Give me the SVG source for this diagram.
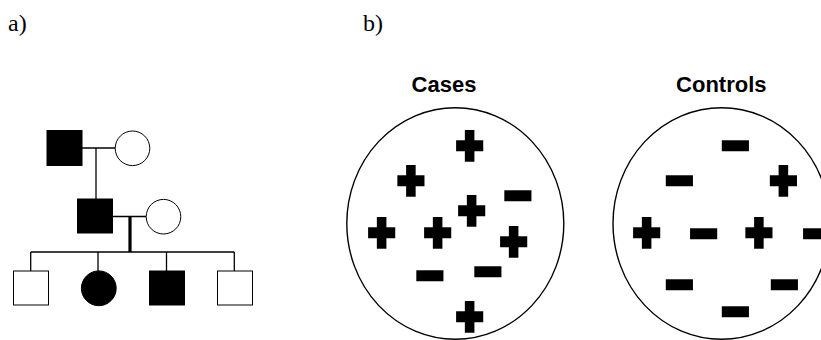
<svg xmlns="http://www.w3.org/2000/svg" width="821" height="340" viewBox="0 0 821 340">
  <style>
    .panel { font-family: "Liberation Serif", "Times New Roman", serif; font-size: 24px; fill: #000; }
    .title { font-family: "Liberation Sans", Arial, sans-serif; font-weight: bold; font-size: 22px; fill: #000; text-anchor: middle; }
    .pm { font-family: "Liberation Sans", Arial, sans-serif; font-weight: bold; font-size: 45px; fill: #000; stroke: #000; stroke-width: 4.6; stroke-linejoin: miter; text-anchor: middle; }
    .line { stroke: #000; stroke-width: 1.3; fill: none; }
    .aff { fill: #000; stroke: #000; stroke-width: 1; }
    .unaff { fill: #fff; stroke: #000; stroke-width: 1; }
    .group { fill: #fff; stroke: #000; stroke-width: 1.4; }
  </style>

  <!-- panel labels -->
  <text class="panel" x="8" y="31">a)</text>
  <text class="panel" x="363" y="31">b)</text>

  <!-- pedigree connectors -->
  <g id="pedigree-lines">
    <line class="line" x1="82" y1="148" x2="115" y2="148"/>
    <line class="line" x1="96" y1="148" x2="96" y2="199"/>
    <line class="line" x1="113" y1="216.5" x2="146" y2="216.5"/>
    <line stroke="#000" stroke-width="3.2" x1="130" y1="216.5" x2="130" y2="252"/>
    <line class="line" x1="30.7" y1="252" x2="234.3" y2="252"/>
    <line class="line" x1="30.7" y1="252" x2="30.7" y2="271"/>
    <line class="line" x1="98" y1="252" x2="98" y2="271"/>
    <line class="line" x1="166.5" y1="252" x2="166.5" y2="271"/>
    <line class="line" x1="234.3" y1="252" x2="234.3" y2="271"/>
  </g>

  <!-- pedigree individuals -->
  <g id="grandfather"><rect class="aff" x="47" y="130.5" width="35" height="35"/></g>
  <g id="grandmother"><circle class="unaff" cx="132.5" cy="148.3" r="17.3"/></g>
  <g id="father"><rect class="aff" x="77.5" y="199" width="35" height="34"/></g>
  <g id="mother"><circle class="unaff" cx="163.5" cy="216.7" r="17.3"/></g>
  <g id="child1"><rect class="unaff" x="13.5" y="271" width="35" height="34"/></g>
  <g id="child2"><circle class="aff" cx="98.8" cy="288.3" r="17.4"/></g>
  <g id="child3"><rect class="aff" x="149.5" y="271" width="35" height="34"/></g>
  <g id="child4"><rect class="unaff" x="217.5" y="271" width="35" height="34"/></g>

  <!-- cases group: each sign is centred on its translate point -->
  <g id="cases">
    <text class="title" x="444" y="91.5">Cases</text>
    <ellipse class="group" cx="455.3" cy="223.5" rx="108.5" ry="115.8"/>
    <text class="pm" transform="translate(469.7,145.3) scale(1,1.15)" y="15.3">+</text>
    <text class="pm" transform="translate(410.8,180.5) scale(1,1.15)" y="15.3">+</text>
    <text class="pm" transform="translate(517.8,195.7) scale(1,1.15)" y="15.3">−</text>
    <text class="pm" transform="translate(471.7,210.5) scale(1,1.15)" y="15.3">+</text>
    <text class="pm" transform="translate(381.7,232.2) scale(1,1.15)" y="15.3">+</text>
    <text class="pm" transform="translate(437.7,232.2) scale(1,1.15)" y="15.3">+</text>
    <text class="pm" transform="translate(513.7,241.2) scale(1,1.15)" y="15.3">+</text>
    <text class="pm" transform="translate(430,275.8) scale(1,1.15)" y="15.3">−</text>
    <text class="pm" transform="translate(487.8,271) scale(1,1.15)" y="15.3">−</text>
    <text class="pm" transform="translate(469.7,316.7) scale(1,1.15)" y="15.3">+</text>
  </g>

  <!-- controls group -->
  <g id="controls">
    <text class="title" x="721.3" y="91.5">Controls</text>
    <ellipse class="group" cx="721.5" cy="223.5" rx="108.5" ry="115.8"/>
    <text class="pm" transform="translate(735.5,145) scale(1,1.15)" y="15.3">−</text>
    <text class="pm" transform="translate(679.5,180.3) scale(1,1.15)" y="15.3">−</text>
    <text class="pm" transform="translate(783.3,180.5) scale(1,1.15)" y="15.3">+</text>
    <text class="pm" transform="translate(646.7,232.2) scale(1,1.15)" y="15.3">+</text>
    <text class="pm" transform="translate(703.7,233) scale(1,1.15)" y="15.3">−</text>
    <text class="pm" transform="translate(759,232.2) scale(1,1.15)" y="15.3">+</text>
    <text class="pm" transform="translate(816.7,233) scale(1,1.15)" y="15.3">−</text>
    <text class="pm" transform="translate(679.5,284.5) scale(1,1.15)" y="15.3">−</text>
    <text class="pm" transform="translate(784.5,284.5) scale(1,1.15)" y="15.3">−</text>
    <text class="pm" transform="translate(735.5,311.3) scale(1,1.15)" y="15.3">−</text>
  </g>
</svg>
